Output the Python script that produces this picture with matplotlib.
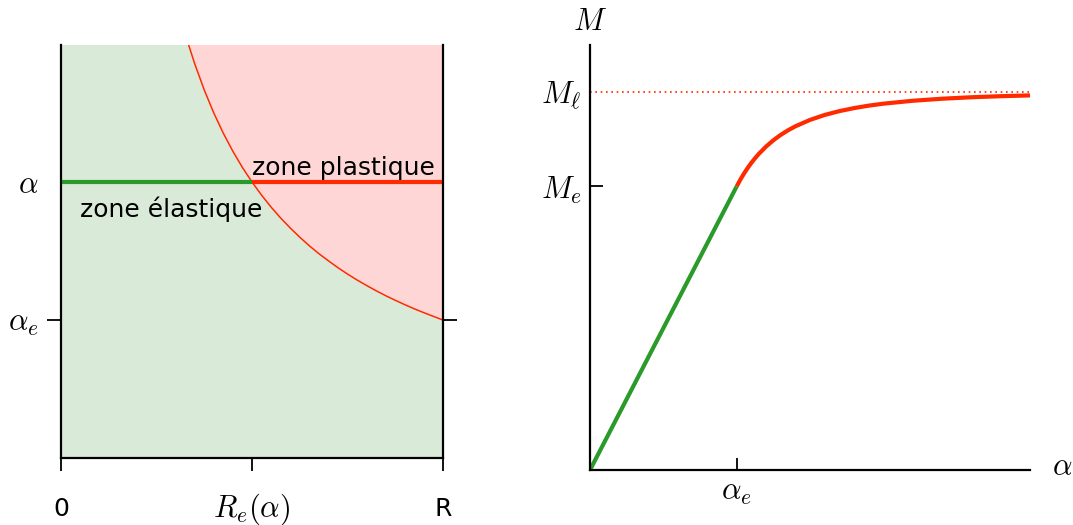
import matplotlib
matplotlib.use("Agg")
import matplotlib.pyplot as plt

plt.rcParams['mathtext.fontset'] = 'cm'
plt.rcParams['font.family'] = ['DejaVu Sans']

# ---- data (left panel: r/R vs alpha/alpha_e boundary) ----
r_curve = [0.320, 0.334, 0.350, 0.375, 0.400, 0.425, 0.450, 0.475, 0.500, 0.525, 0.550, 0.575,
           0.600, 0.625, 0.650, 0.675, 0.700, 0.725, 0.750, 0.775, 0.800, 0.825, 0.850, 0.875,
           0.900, 0.925, 0.950, 0.975, 1.000]
a_curve = [3.125, 2.994, 2.857, 2.667, 2.500, 2.353, 2.222, 2.105, 2.000, 1.905, 1.818, 1.739,
           1.667, 1.600, 1.538, 1.481, 1.429, 1.379, 1.333, 1.290, 1.250, 1.212, 1.176, 1.143,
           1.111, 1.081, 1.053, 1.026, 1.000]
alpha_level = 2.0
re_alpha = 0.5
left_xticks = [0.0, re_alpha, 1.0]
left_xlabels = ['0', r'$R_e(\alpha)$', 'R']
left_yticks = [1.0, alpha_level]
left_ylabels = [r'$\alpha_e$', r'$\alpha$']

# ---- data (right panel: moment vs twist) ----
alpha_el = [0.0, 1.0]
M_el = [0.0, 0.75]
alpha_pl = [1.0, 1.025, 1.05, 1.075, 1.1, 1.125, 1.15, 1.2, 1.25, 1.3, 1.35, 1.4, 1.5, 1.6, 1.7,
            1.8, 1.9, 2.0, 2.2, 2.4, 2.6, 2.8, 3.0]
M_pl = [0.7500, 0.7679, 0.7840, 0.7988, 0.8122, 0.8244, 0.8356, 0.8553, 0.8720, 0.8862, 0.8984,
        0.9089, 0.9259, 0.9390, 0.9491, 0.9571, 0.9636, 0.9688, 0.9765, 0.9819, 0.9858, 0.9886, 0.9907]
M_limit = 1.0
right_xticks = [1.0]
right_xlabels = [r'$\alpha_e$']
right_yticks = [0.75, 1.0]
right_ylabels = [r'$M_e$', r'$M_\ell$']

GREEN = '#2a9a2a'
RED = '#ff2a00'
GREEN_FILL = '#d9ead9'
RED_FILL = '#ffd6d6'
MATH_SIZE = 22

fig = plt.figure(figsize=(10.73, 5.25), dpi=100)

# ---------------- left panel ----------------
ax1 = fig.add_axes([61/1073, 67/525, 382/1073, 413/525])
ax1.set_xlim(0, 1)
ax1.set_ylim(0, 2.993)
ax1.set_facecolor(GREEN_FILL)
ax1.fill_between(r_curve, a_curve, 3.3, color=RED_FILL, lw=0)
ax1.plot(r_curve, a_curve, color=RED, lw=1.1)
ax1.plot([0, re_alpha], [alpha_level, alpha_level], color=GREEN, lw=3, solid_capstyle='butt')
ax1.plot([re_alpha, 1], [alpha_level, alpha_level], color=RED, lw=3, solid_capstyle='butt')
ax1.text(0.50, 2.05, 'zone plastique', fontsize=18, ha='left', va='baseline')
ax1.text(0.05, 1.746, 'zone élastique', fontsize=18, ha='left', va='baseline')

ax1.spines['top'].set_visible(False)
for s in ['left', 'right', 'bottom']:
    ax1.spines[s].set_linewidth(1.6)
ax1.set_xticks(left_xticks)
ax1.set_yticks(left_yticks)
ax1.tick_params(axis='x', direction='out', length=9, width=1.3, pad=33, labelsize=18)
ax1.tick_params(axis='y', direction='out', length=10, width=1.3, pad=6, labelsize=MATH_SIZE,
                right=True, left=True)
ax1.set_xticklabels(left_xlabels)
ax1.set_yticklabels(left_ylabels)
for lab in ax1.get_xticklabels():
    lab.set_va('baseline')
    if lab.get_text().startswith('$'):
        lab.set_fontsize(MATH_SIZE)
yt = ax1.yaxis.get_major_ticks()
yt[1].tick1line.set_visible(False)
yt[1].tick2line.set_visible(False)

# ---------------- right panel ----------------
ax2 = fig.add_axes([590/1073, 55/525, 440/1073, 425/525])
ax2.set_xlim(0, 3.0)
ax2.set_ylim(0, 1.124)
ax2.plot(alpha_el, M_el, color=GREEN, lw=3, solid_capstyle='butt')
ax2.plot(alpha_pl, M_pl, color=RED, lw=3, solid_capstyle='butt')
ax2.plot([0, 3.0], [M_limit, M_limit], color=RED, lw=1.2, ls=(0, (1, 2.2)))
ax2.spines['top'].set_visible(False)
ax2.spines['right'].set_visible(False)
for s in ['left', 'bottom']:
    ax2.spines[s].set_linewidth(1.6)
ax2.set_xticks(right_xticks)
ax2.set_yticks(right_yticks)
ax2.tick_params(axis='x', direction='in', length=9, width=1.3, pad=6, labelsize=MATH_SIZE)
ax2.tick_params(axis='y', direction='in', length=9, width=1.3, pad=6, labelsize=MATH_SIZE)
ax2.set_xticklabels(right_xlabels)
ax2.set_yticklabels(right_ylabels)
yt2 = ax2.yaxis.get_major_ticks()
yt2[1].tick1line.set_visible(False)
ax2.text(0, 1.185, r'$M$', fontsize=MATH_SIZE, ha='center', va='center', clip_on=False)
ax2.text(3.217, 0.008, r'$\alpha$', fontsize=MATH_SIZE, ha='center', va='center', clip_on=False)

fig.savefig('out.png', dpi=100)
